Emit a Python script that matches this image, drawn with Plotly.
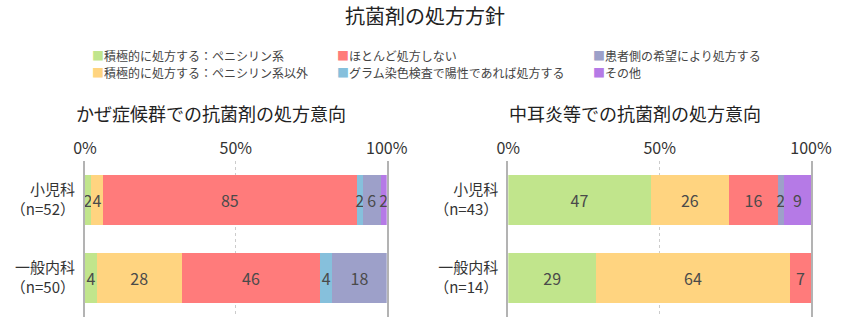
import plotly.graph_objects as go
from plotly.subplots import make_subplots

# Response categories (stacking order) and their colours
categories = [
    "積極的に処方する：ペニシリン系",
    "積極的に処方する：ペニシリン系以外",
    "ほとんど処方しない",
    "グラム染色検査で陽性であれば処方する",
    "患者側の希望により処方する",
    "その他",
]
colors = ["#c1e58c", "#ffd480", "#ff7b7b", "#86c0dc", "#9da0c9", "#b57ae6"]

groups = ["小児科<br>（n=52）", "一般内科<br>（n=50）"]
groups_ear = ["小児科<br>（n=43）", "一般内科<br>（n=14）"]

# Percentages per category: [小児科, 一般内科]
cold_values = [
    [2, 4],
    [4, 28],
    [85, 46],
    [2, 4],
    [6, 18],
    [2, 0],
]
ear_values = [
    [47, 29],
    [26, 64],
    [16, 7],
    [0, 0],
    [2, 0],
    [9, 0],
]

title_main = "抗菌剤の処方方針"
subtitles = ["かぜ症候群での抗菌剤の処方意向", "中耳炎等での抗菌剤の処方意向"]
tick_vals = [0, 50, 100]
tick_text = ["0%", "50%", "100%"]

FONT = "Noto Sans CJK JP"
W, H = 850, 326

fig = make_subplots(rows=1, cols=2, horizontal_spacing=0.143)

for col, (vals, cats) in enumerate([(cold_values, groups), (ear_values, groups_ear)], start=1):
    for i, name in enumerate(categories):
        v = vals[i]
        fig.add_trace(
            go.Bar(
                x=v,
                y=cats,
                orientation="h",
                name=name,
                marker=dict(color=colors[i], line=dict(width=0)),
                text=[str(t) if t else "" for t in v],
                textposition="inside",
                insidetextanchor="middle",
                textfont=dict(family=FONT, size=16, color="#4a4a4a"),
                showlegend=False,
                hoverinfo="skip",
            ),
            row=1,
            col=col,
        )

fig.update_layout(
    width=W,
    height=H,
    margin=dict(l=0, r=0, t=0, b=0, autoexpand=False),
    barmode="stack",
    barnorm="percent",
    bargap=0.36,
    paper_bgcolor="white",
    plot_bgcolor="white",
    font=dict(family=FONT, color="#333333"),
    uniformtext=dict(minsize=16, mode="show"),
    title=dict(
        text=title_main,
        x=0.5,
        xanchor="center",
        y=1 - 17 / H,
        yanchor="middle",
        font=dict(family=FONT, size=20, color="#222222"),
    ),
)

y_domain = [9.3 / H, 165.3 / H]
x_domains = [[85 / W, 386.7 / W], [508.3 / W, 811 / W]]
for col in (1, 2):
    xa = "xaxis" if col == 1 else "xaxis2"
    ya = "yaxis" if col == 1 else "yaxis2"
    fig.update_layout(
        {
            xa: dict(
                domain=x_domains[col - 1],
                range=[0, 100],
                side="top",
                tickvals=tick_vals,
                ticktext=tick_text,
                tickfont=dict(family=FONT, size=16, color="#333333"),
                ticks="",
                ticklabelstandoff=3,
                showgrid=True,
                gridcolor="#cccccc",
                griddash="dot",
                gridwidth=1,
                zeroline=False,
                showline=False,
                automargin=False,
                fixedrange=True,
            ),
            ya: dict(
                domain=y_domain,
                autorange="reversed",
                tickfont=dict(family=FONT, size=15, color="#333333"),
                ticks="",
                ticklabelstandoff=5,
                showline=True,
                mirror=True,
                linecolor="#b3b3b3",
                linewidth=2,
                showgrid=False,
                zeroline=False,
                automargin=False,
                fixedrange=True,
            ),
        }
    )

# Chart subtitles
for col, text in enumerate(subtitles):
    xc = sum(x_domains[col]) / 2 - 25 / W
    fig.add_annotation(
        text=text,
        xref="paper",
        yref="paper",
        x=xc,
        y=1 - 113 / H,
        xanchor="center",
        yanchor="middle",
        showarrow=False,
        font=dict(family=FONT, size=18, color="#222222"),
    )

# Shared key: three columns of two entries, coloured square + label
key_cols = [90, 335, 591]
key_rows = [55, 72]
for i, (name, color) in enumerate(zip(categories, colors)):
    fig.add_annotation(
        text=f"<span style='color:{color}'>■</span>{name}",
        xref="paper",
        yref="paper",
        x=key_cols[i // 2] / W,
        y=1 - key_rows[i % 2] / H,
        xanchor="left",
        yanchor="middle",
        showarrow=False,
        font=dict(family=FONT, size=12, color="#444444"),
    )

fig.write_html("out.html")
